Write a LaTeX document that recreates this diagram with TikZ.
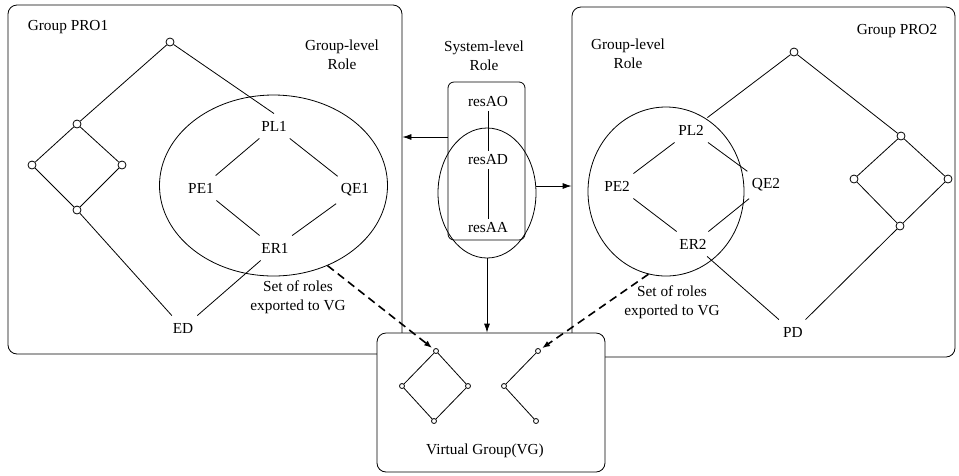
\documentclass[tikz,border=0pt]{standalone}
\usepackage{fontspec}
\setmainfont{Liberation Serif}
\usetikzlibrary{arrows.meta,fit,shapes.geometric}

\begin{document}
\begin{tikzpicture}[x=1pt, y=-1pt,
  font=\fontsize{15.3}{19.5}\selectfont,
  line width=0.8pt,
  grpbox/.style={draw, rounded corners=9pt, inner sep=0pt},
  vtx/.style={draw, circle, fill=white, inner sep=0pt, minimum size=8pt},
  svtx/.style={draw, circle, fill=white, inner sep=0pt, minimum size=5pt},
  role/.style={inner sep=7pt},
  txt/.style={align=center, inner sep=2pt},
  roleset/.style={draw, ellipse, inner sep=0pt},
  arr/.style={-{Latex[length=9pt,width=6pt]}},
  expline/.style={line width=1.6pt, dash pattern=on 8pt off 5pt,
                  -{Latex[length=8pt,width=6pt]}, shorten >=2pt}
]
\useasboundingbox (0,0) rectangle (959,475);

% the two groups
\node[grpbox, fit={(8,5) (402,354)}] (pro1) {};
\node[grpbox, fit={(572,7) (955,357)}] (pro2) {};

% group PRO1
\node[txt] (pro1lbl) at (68,27) {Group PRO1};
\node[txt] (glr1) at (342,55) {Group-level\\Role};
\node[roleset, minimum width=228pt, minimum height=181pt] (ell1) at (273.5,185.5) {};
\node[vtx] (a1) at (170,42) {};
\node[vtx] (a2) at (77,124) {};
\node[vtx] (a3) at (32,165) {};
\node[vtx] (a4) at (122,165) {};
\node[vtx] (a5) at (77,210) {};
\node[role] (PL1) at (274,126) {PL1};
\node[role] (PE1) at (201,188) {PE1};
\node[role] (QE1) at (355,190) {QE1};
\node[role] (ER1) at (275,248) {ER1};
\node[role] (ED) at (183,328) {ED};
\node[txt] (set1) at (298,297) {Set of roles\\exported to VG};
\draw (a1) -- (a2) (a2) -- (a3) (a2) -- (a4) (a3) -- (a5) (a4) -- (a5)
      (a5) -- (ED) (a1) -- (PL1.north);
\draw (PL1) -- (PE1) (PL1) -- (QE1) (PE1) -- (ER1) (QE1) -- (ER1) (ER1) -- (ED);

% group PRO2
\node[txt] (pro2lbl) at (897,31) {Group PRO2};
\node[txt] (glr2) at (628,54) {Group-level\\Role};
\node[roleset, minimum width=156pt, minimum height=169pt] (ell2) at (666,191.5) {};
\node[vtx] (d1) at (794,52) {};
\node[vtx] (d2) at (901,136) {};
\node[vtx] (d3) at (854,179) {};
\node[vtx] (d4) at (948,179) {};
\node[vtx] (d5) at (900,226) {};
\node[role] (PL2) at (691,130) {PL2};
\node[role] (PE2) at (617,186) {PE2};
\node[role] (QE2) at (766,185) {QE2};
\node[role] (ER2) at (693,244) {ER2};
\node[role] (PD) at (793,332) {PD};
\node[txt] (set2) at (672,302) {Set of roles\\exported to VG};
\draw (d1) -- (d2) (d2) -- (d3) (d2) -- (d4) (d3) -- (d5) (d4) -- (d5)
      (d5) -- (PD) (d1) -- (PL2);
\draw (PL2) -- (PE2) (PL2) -- (QE2) (PE2) -- (ER2) (QE2) -- (ER2) (ER2) -- (PD);

% system-level roles
\node[txt] (sysl) at (484,56) {System-level\\Role};
\node[grpbox, rounded corners=6pt, fit={(448,82) (525,240)}] (sysbox) {};
\node[roleset, minimum width=98pt, minimum height=130pt] (sysell) at (487,193) {};
\node (resAO) at (488,102) {resAO};
\node (resAD) at (488,160) {resAD};
\node (resAA) at (488,228) {resAA};
\draw (resAO) -- (resAD) (resAD) -- (resAA);

% virtual group
\node[grpbox, fill=white, fit={(377,333) (605,472)}] (vg) {};
\node[svtx] (b1) at (436,351) {};
\node[svtx] (b2) at (402,386) {};
\node[svtx] (b3) at (468,386) {};
\node[svtx] (b4) at (434,421) {};
\node[svtx] (c1) at (538,351) {};
\node[svtx] (c2) at (504,386) {};
\node[svtx] (c3) at (536,421) {};
\node[txt] (vglbl) at (485,451) {Virtual Group(VG)};
\draw (b1) -- (b2) (b1) -- (b3) (b2) -- (b4) (b3) -- (b4)
      (c1) -- (c2) (c2) -- (c3);

% arrows
\coordinate (lout) at ([yshift=24pt]sysbox.west);
\coordinate (rout) at ([yshift=7pt]sysell.east);
\draw[arr] (lout) -- (lout -| pro1.east);
\draw[arr] (rout) -- (rout -| pro2.west);
\draw[arr] (sysell.south) -- (sysell.south |- vg.north);
\draw[expline] (ell1.-56) -- (b1);
\draw[expline] (ell2.-102) -- (c1);
\end{tikzpicture}
\end{document}
